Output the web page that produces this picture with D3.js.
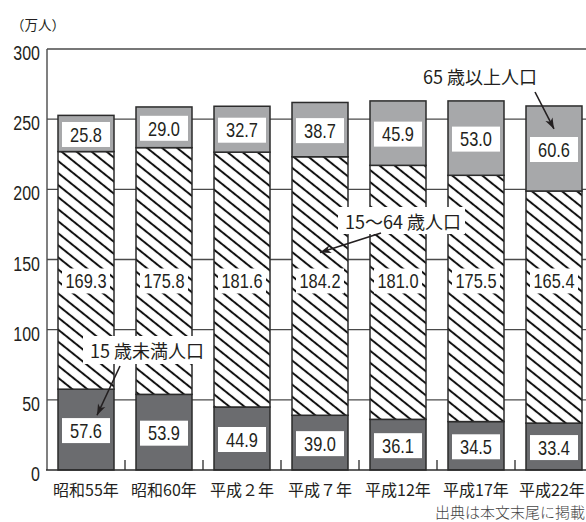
<!DOCTYPE html>
<html>
<head>
<meta charset="utf-8">
<script src="https://cdn.jsdelivr.net/npm/d3@7"></script>
<style>
  html, body { margin: 0; padding: 0; background: #fff; }
  svg { display: block; }
</style>
</head>
<body>
<svg id="chart" width="586" height="522"></svg>
<script>
// Population by age group (unit: 10,000 people)
const categories = ["昭和55年", "昭和60年", "平成２年", "平成７年", "平成12年", "平成17年", "平成22年"];
const under15    = [57.6, 53.9, 44.9, 39.0, 36.1, 34.5, 33.4];
const working    = [169.3, 175.8, 181.6, 184.2, 181.0, 175.5, 165.4];
const elderly    = [25.8, 29.0, 32.7, 38.7, 45.9, 53.0, 60.6];
const seriesNames = ["15 歳未満人口", "15〜64 歳人口", "65 歳以上人口"];
const yTicks = [0, 50, 100, 150, 200, 250, 300];
const unitLabel = "（万人）";
const sourceNote = "出典は本文末尾に掲載";

const series = [under15, working, elderly];

// ---- fonts -------------------------------------------------------------
function hasFont(name) {
  const c = document.createElement("canvas").getContext("2d");
  c.font = "40px monospace";
  const a = c.measureText("0123456789.").width;
  c.font = `40px '${name}', monospace`;
  const b = c.measureText("0123456789.").width;
  return Math.abs(a - b) > 0.5;
}
const NARROW = hasFont("Liberation Sans Narrow");
const numFamily = NARROW ? "'Liberation Sans Narrow', 'Liberation Sans', sans-serif" : "'Liberation Sans', sans-serif";
const numScale = NARROW ? 1 : 0.82;
const cjkFamily = "'Noto Sans CJK JP', sans-serif";
const mixFamily = `${NARROW ? "'Liberation Sans Narrow', " : ""}'Noto Sans CJK JP', sans-serif`;
const ink = "#231f20";

// ---- scales --------------------------------------------------------------
const svg = d3.select("#chart");
const x = d3.scaleBand()
  .domain(categories)
  .range([47, 593])
  .paddingInner(22 / 78)
  .paddingOuter(11 / 78);
const y = d3.scaleLinear().domain([0, 300]).range([470, 49]);

// ---- defs: hatch + arrow ------------------------------------------------
const defs = svg.append("defs");
const hatch = defs.append("pattern")
  .attr("id", "hatch")
  .attr("patternUnits", "userSpaceOnUse")
  .attr("width", 20)
  .attr("height", 9.4)
  .attr("patternTransform", "rotate(38.7)");
hatch.append("rect").attr("width", 20).attr("height", 9.4).attr("fill", "#fff");
hatch.append("line")
  .attr("x1", 0).attr("x2", 20)
  .attr("y1", 4.7).attr("y2", 4.7)
  .attr("stroke", "#111").attr("stroke-width", 2);

defs.append("marker")
  .attr("id", "arrow")
  .attr("markerUnits", "userSpaceOnUse")
  .attr("viewBox", "-12 -6 14 12")
  .attr("markerWidth", 14).attr("markerHeight", 12)
  .attr("refX", 0).attr("refY", 0)
  .attr("orient", "auto")
  .append("path")
  .attr("d", "M0,0 L-11,-4 L-8,0 L-11,4 Z")
  .attr("fill", ink);

// ---- grid ------------------------------------------------------------------
const grid = svg.append("g");
grid.selectAll("line")
  .data(yTicks.filter(d => d > 0))
  .join("line")
  .attr("x1", 47).attr("x2", 600)
  .attr("y1", d => y(d)).attr("y2", d => y(d))
  .attr("stroke", "#4a4a4a").attr("stroke-width", 1.3);

// ---- stacked bars -------------------------------------------------------
const fills = ["#6b6c6f", "url(#hatch)", "#a7a8aa"];
const stacks = categories.map((c, i) => {
  let acc = 0;
  return series.map((s, k) => {
    const y0 = acc; acc += s[i];
    return { cat: c, i, k, y0, y1: acc, v: s[i] };
  });
});

const bars = svg.append("g");
bars.selectAll("g")
  .data(stacks)
  .join("g")
  .selectAll("rect")
  .data(d => d)
  .join("rect")
  .attr("x", d => x(d.cat))
  .attr("y", d => y(d.y1))
  .attr("width", x.bandwidth())
  .attr("height", d => y(d.y0) - y(d.y1))
  .attr("fill", d => fills[d.k])
  .attr("stroke", "#2b2b2b")
  .attr("stroke-width", 1.5);

// ---- value labels ---------------------------------------------------------
function numLabel(parent, cx, cy, str, size, anchor) {
  const g = parent.append("g")
    .attr("transform", `translate(${cx},${cy}) scale(${numScale},1)`);
  g.append("text")
    .attr("text-anchor", anchor || "middle")
    .attr("dy", "0.36em")
    .attr("font-family", numFamily)
    .attr("font-size", size)
    .attr("fill", ink)
    .text(str);
}

const labels = svg.append("g");
const midLabelValue = 134.7; // middle-band labels share one row
stacks.flat().forEach(d => {
  const cx = x(d.cat) + x.bandwidth() / 2;
  const cy = d.k === 1 ? y(midLabelValue) : (y(d.y0) + y(d.y1)) / 2 + 1;
  labels.append("rect")
    .attr("x", cx - 24).attr("y", cy - 12.5)
    .attr("width", 48).attr("height", 25)
    .attr("fill", "#fff");
  numLabel(labels, cx, cy, d.v.toFixed(1), 20);
});

// ---- axes ------------------------------------------------------------------
const axes = svg.append("g");
axes.append("line")
  .attr("x1", 47).attr("x2", 47)
  .attr("y1", y(300)).attr("y2", y(0))
  .attr("stroke", "#4a4a4a").attr("stroke-width", 1.4);
axes.append("line")
  .attr("x1", 46).attr("x2", 600)
  .attr("y1", y(0)).attr("y2", y(0))
  .attr("stroke", "#2b2b2b").attr("stroke-width", 1.6);

// short category separators along the baseline
const step = x.step();
axes.selectAll(".sep")
  .data(categories)
  .join("line")
  .attr("class", "sep")
  .attr("x1", (d, i) => 47 + (i + 1) * step)
  .attr("x2", (d, i) => 47 + (i + 1) * step)
  .attr("y1", y(0) - 10).attr("y2", y(0))
  .attr("stroke", "#2b2b2b").attr("stroke-width", 1.3);

yTicks.forEach(t => numLabel(axes, 40, y(t) + 4, String(t), 19.5, "end"));

axes.selectAll(".xl")
  .data(categories)
  .join("text")
  .attr("class", "xl")
  .attr("x", (d, i) => x(d) + x.bandwidth() / 2 - (i === categories.length - 1 ? 2 : 0))
  .attr("y", 489)
  .attr("text-anchor", "middle")
  .attr("dominant-baseline", "central")
  .attr("font-family", mixFamily)
  .attr("font-size", 16)
  .attr("fill", ink)
  .text(d => d);

svg.append("text")
  .attr("x", 11).attr("y", 24)
  .attr("dominant-baseline", "central")
  .attr("font-family", cjkFamily)
  .attr("font-size", 13.5)
  .attr("fill", ink)
  .text(unitLabel);

svg.append("text")
  .attr("x", 585).attr("y", 511)
  .attr("text-anchor", "end")
  .attr("dominant-baseline", "central")
  .attr("font-family", cjkFamily)
  .attr("font-size", 15)
  .attr("font-weight", 300)
  .attr("fill", "#444")
  .text(sourceNote);

// ---- series call-outs -------------------------------------------------------
const callouts = [
  { k: 2, tx: 423, ty: 76, box: null, from: [535, 92], cat: 6, off: 0, val: 243 },
  { k: 1, tx: 345, ty: 221, box: [338, 207, 127, 27], from: [381, 233], cat: 3, off: 0, val: 155 },
  { k: 0, tx: 90, ty: 350, box: [83, 336, 124, 28], from: [120, 366], cat: 0, off: 11, val: 39 }
];
const ann = svg.append("g");
callouts.forEach(c => {
  if (c.box) {
    ann.append("rect")
      .attr("x", c.box[0]).attr("y", c.box[1])
      .attr("width", c.box[2]).attr("height", c.box[3])
      .attr("fill", "#fff");
  }
  ann.append("text")
    .attr("x", c.tx).attr("y", c.ty)
    .attr("dominant-baseline", "central")
    .attr("font-family", mixFamily)
    .attr("font-size", 18)
    .attr("fill", ink)
    .text(seriesNames[c.k]);
  const tx = x(categories[c.cat]) + x.bandwidth() / 2 + c.off;
  ann.append("line")
    .attr("x1", c.from[0]).attr("y1", c.from[1])
    .attr("x2", tx).attr("y2", y(c.val))
    .attr("stroke", ink).attr("stroke-width", 1.6)
    .attr("marker-end", "url(#arrow)");
});
</script>
</body>
</html>
